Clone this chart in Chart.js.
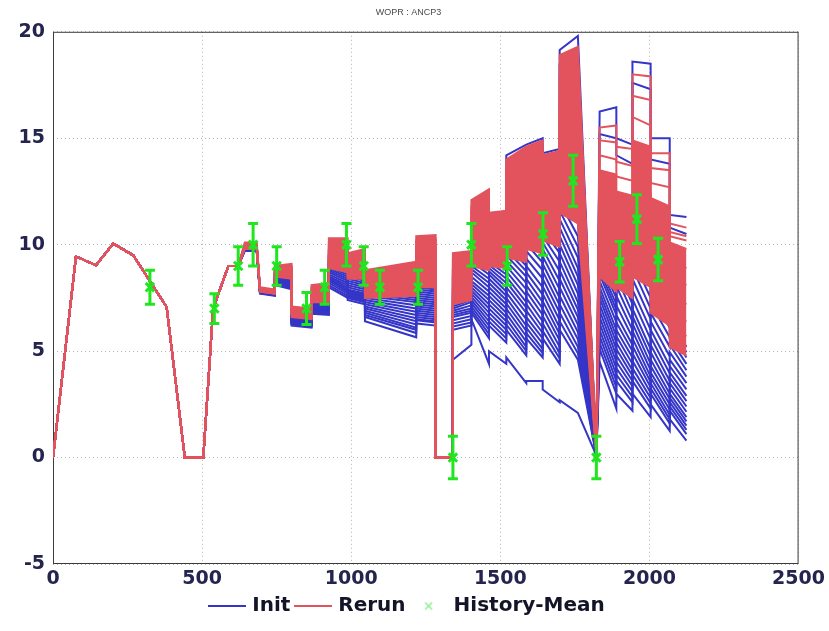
<!DOCTYPE html>
<html>
<head>
<meta charset="utf-8">
<script src="https://cdn.jsdelivr.net/npm/chart.js@4.4.0/dist/chart.umd.min.js"></script>
<style>
html, body { margin: 0; padding: 0; background: #fff; }
</style>
</head>
<body>
<canvas id="wopr-chart" width="829" height="631"></canvas>
<script>
// shared history part (all runs identical up to day 621)
var historyDays = [0, 77, 144, 202, 269, 381, 442, 504, 537, 588, 621];
var historyRate = [0, 9.45, 9.03, 10.05, 9.5, 7.07, 0, 0, 7.0, 9.0, 9.0];

// forecast part, repeated days are the rate steps
var forecastDays = [643, 683, 694, 744,  744, 800, 800, 867, 867, 925,
    925, 988, 988, 1046, 1046, 1218, 1218, 1283,  1283, 1338,
    1341, 1403, 1403, 1462, 1462, 1520, 1520, 1587, 1587, 1642, 1642, 1699, 1699, 1760, 1822,
    1833, 1889, 1889, 1943, 1943, 2004, 2004, 2068, 2068, 2124];

// Init ensemble (blue)
var initRuns = [
    [9.7,9.7,7.7,7.6,  8.1,7.9,6.2,6.1,6.75,6.7,  8.0,7.5,7.4,7.2,6.4,5.65,6.3,6.2,  0,0,
     4.6,5.3,6.5,4.4,5.0,4.4,4.7,3.5,3.6,3.6,3.2,2.6,2.7,2.1,0.1,  4.5,2.3,3.0,2.2,3.0,1.9,2.5,1.25,1.8,0.8],
    [9.72,9.72,7.72,7.62,  8.15,7.95,6.25,6.15,6.8,6.75,  8.1,7.6,7.5,7.3,6.6,5.85,6.45,6.35,  0,0,
     6.0,6.2,6.8,5.6,6.2,5.4,6.0,4.8,5.6,4.7,5.6,4.4,6.0,4.6,0.1,  5.1,3.0,3.6,2.6,3.6,2.3,3.0,1.6,2.2,1.1],
    [9.73,9.73,7.73,7.63,  8.18,7.98,6.28,6.18,6.85,6.78,  8.2,7.7,7.55,7.35,6.7,6.0,6.5,6.4,  0,0,
     6.15,6.35,6.95,5.8,6.4,5.6,6.25,5.0,5.85,4.9,5.95,4.65,6.4,4.9,0.11,  5.4,3.3,3.9,2.85,3.9,2.55,3.25,1.8,2.4,1.3],
    [9.75,9.75,7.75,7.65,  8.2,8.0,6.3,6.2,6.9,6.8,  8.3,7.8,7.6,7.4,6.8,6.1,6.6,6.5,  0,0,
     6.3,6.5,7.1,6.0,6.6,5.8,6.5,5.2,6.1,5.1,6.3,4.9,6.8,5.2,0.12,  5.7,3.6,4.2,3.1,4.2,2.8,3.5,2.0,2.6,1.5],
    [9.76,9.76,7.76,7.66,  8.22,8.02,6.32,6.22,6.92,6.82,  8.35,7.85,7.65,7.45,6.9,6.25,6.7,6.6,  0,0,
     6.45,6.65,7.25,6.2,6.8,6.0,6.75,5.45,6.35,5.35,6.65,5.2,7.2,5.55,0.12,  6.0,3.9,4.5,3.35,4.55,3.05,3.75,2.25,2.8,1.7],
    [9.78,9.78,7.78,7.68,  8.25,8.05,6.35,6.25,6.95,6.85,  8.4,7.9,7.7,7.5,7.0,6.4,6.8,6.7,  0,0,
     6.6,6.8,7.4,6.4,7.0,6.2,7.0,5.7,6.6,5.6,7.0,5.5,7.6,5.9,0.13,  6.3,4.2,4.8,3.6,4.9,3.3,4.0,2.5,3.0,1.9],
    [9.79,9.79,7.79,7.69,  8.28,8.08,6.38,6.28,6.98,6.88,  8.45,8.0,7.75,7.55,7.1,6.55,6.9,6.8,  0,0,
     6.7,6.9,7.55,6.6,7.2,6.4,7.25,5.95,6.9,5.85,7.35,5.8,8.0,6.25,0.14,  6.6,4.5,5.1,3.85,5.25,3.55,4.3,2.75,3.25,2.15],
    [9.8,9.8,7.8,7.7,  8.3,8.1,6.4,6.3,7.0,6.9,  8.5,8.1,7.8,7.6,7.2,6.7,7.0,6.9,  0,0,
     6.8,7.0,7.7,6.8,7.4,6.6,7.5,6.2,7.2,6.1,7.7,6.1,8.4,6.6,0.15,  6.9,4.8,5.4,4.1,5.6,3.8,4.6,3.0,3.5,2.4],
    [9.82,9.82,7.81,7.71,  8.35,8.12,6.42,6.32,7.05,6.95,  8.6,8.2,7.85,7.65,7.3,6.85,7.1,7.0,  0,0,
     6.9,7.15,7.85,7.0,7.6,6.8,7.75,6.5,7.5,6.4,8.05,6.45,8.8,6.95,0.16,  7.2,5.1,5.7,4.4,5.95,4.1,4.95,3.3,3.75,2.65],
    [9.85,9.85,7.82,7.72,  8.4,8.15,6.45,6.35,7.1,7.0,  8.7,8.3,7.9,7.7,7.4,7.0,7.2,7.1,  0,0,
     7.0,7.3,8.0,7.2,7.8,7.0,8.0,6.8,7.8,6.7,8.4,6.8,9.2,7.3,0.17,  7.5,5.4,6.0,4.7,6.3,4.4,5.3,3.6,4.0,2.9],
    [9.86,9.86,7.83,7.73,  8.42,8.18,6.48,6.38,7.15,7.02,  8.78,8.4,8.0,7.8,7.5,7.15,7.3,7.2,  0,0,
     7.1,7.4,8.15,7.4,8.0,7.2,8.25,7.05,8.1,7.0,8.75,7.15,9.6,7.7,0.18,  7.75,5.7,6.35,5.0,6.65,4.75,5.65,3.95,4.3,3.2],
    [9.88,9.88,7.85,7.75,  8.45,8.2,6.5,6.4,7.2,7.05,  8.85,8.5,8.1,7.9,7.6,7.3,7.4,7.3,  0,0,
     7.2,7.5,8.3,7.6,8.2,7.4,8.5,7.3,8.4,7.3,9.1,7.5,10.0,8.1,0.2,  8.0,6.0,6.7,5.3,7.0,5.1,6.0,4.3,4.6,3.5],
    [9.9,9.9,7.86,7.76,  8.5,8.22,6.55,6.42,7.25,7.1,  8.92,8.6,8.2,8.0,7.7,7.4,7.5,7.4,  0,0,
     7.35,7.6,8.5,7.8,8.4,7.6,8.75,7.6,8.7,7.65,9.45,7.9,10.4,8.5,0.21,  8.3,6.35,7.15,5.65,7.45,5.55,6.4,4.75,4.95,3.8],
    [9.92,9.92,7.88,7.78,  8.55,8.25,6.6,6.45,7.3,7.15,  9.0,8.7,8.3,8.1,7.8,7.5,7.6,7.5,  0,0,
     7.5,7.7,8.7,8.0,8.6,7.8,9.0,7.9,9.0,8.0,9.8,8.3,10.8,8.9,0.22,  8.6,6.7,7.6,6.0,7.9,6.0,6.8,5.2,5.3,4.1],
    [9.94,9.94,7.9,7.8,  8.58,8.28,6.65,6.5,7.35,7.18,  9.1,8.75,8.4,8.2,7.9,7.65,7.7,7.6,  0,0,
     7.65,7.85,8.85,8.2,8.75,8.0,9.25,8.2,9.35,8.4,10.1,8.75,11.2,9.4,0.23,  8.8,6.95,8.05,6.4,8.4,6.5,7.25,5.65,5.6,4.4],
    [9.96,9.96,7.92,7.82,  8.6,8.3,6.7,6.55,7.4,7.2,  9.2,8.8,8.5,8.3,8.0,7.8,7.8,7.7,  0,0,
     7.8,8.0,9.0,8.4,8.9,8.2,9.5,8.5,9.7,8.8,10.4,9.2,11.6,9.9,0.25,  9.0,7.2,8.5,6.8,8.9,7.0,7.7,6.1,5.9,4.7],
    [9.98,9.98,7.93,7.83,  8.65,8.35,6.75,6.58,7.45,7.25,  9.3,8.9,8.6,8.4,8.1,7.9,7.9,7.8,  0,0,
     7.9,8.1,9.2,8.6,9.05,8.4,9.75,8.75,10.05,9.15,10.7,9.6,12.0,10.4,0.27,  9.2,7.5,8.95,7.2,9.35,7.5,8.1,6.55,6.2,4.95],
    [10.0,10.0,7.95,7.85,  8.7,8.4,6.8,6.6,7.5,7.3,  9.4,9.0,8.7,8.5,8.2,8.0,8.0,7.9,  0,0,
     8.0,8.2,9.4,8.8,9.2,8.6,10.0,9.0,10.4,9.5,11.0,10.0,12.5,11.0,0.3,  9.4,7.8,9.4,7.6,9.8,8.0,8.5,7.0,6.5,5.2],
    [9.9,9.9,7.85,7.75,  8.7,8.7,6.85,6.7,7.7,7.8,  9.5,9.4,9.0,9.1,8.2,8.5,9.4,9.5,  0,0,
     8.5,8.7,10.6,10.9,10.2,10.3,13.6,14.2,14.3,14.6,13.8,14.0,18.5,19.0,0.3,  15.2,15.0,14.2,13.8,17.6,17.3,14.0,13.8,10.8,10.5],
    [9.95,9.95,7.9,7.8,  8.8,8.8,6.9,6.8,7.8,7.9,  9.7,9.6,9.1,9.3,8.4,8.7,9.7,9.8,  0,0,
     8.8,9.0,11.0,11.3,10.6,10.6,14.2,14.7,14.7,15.0,14.3,14.5,19.15,19.8,0.3,  16.25,16.45,15.0,14.7,18.6,18.5,15.0,15.0,11.4,11.3]
];

// Rerun ensemble (red), bottom to top, the band between them is filled
var rerunRuns = [
    [9.8,9.8,7.8,7.7,  8.5,8.4,6.6,6.5,7.3,7.3,  8.9,8.7,8.4,8.4,7.5,7.6,8.0,8.0,  0,0,
     7.2,7.4,9.0,8.8,9.0,8.9,9.4,9.2,9.8,9.6,10.2,9.9,11.5,11.0,0.1,  8.5,7.8,8.0,7.5,8.5,8.0,6.8,6.2,5.2,4.8],
    [9.8,9.8,7.8,7.7,  8.55,8.45,6.7,6.55,7.4,7.4,  9.0,8.8,8.5,8.5,7.6,7.8,8.3,8.3,  0,0,
     7.5,7.7,9.3,9.1,9.2,9.1,9.8,9.6,10.1,9.9,10.4,10.1,12.0,11.6,0.15,  9.0,8.3,8.4,7.9,9.2,8.7,7.3,6.7,5.6,5.2],
    [9.85,9.85,7.85,7.7,  8.6,8.5,6.75,6.6,7.5,7.5,  9.1,9.0,8.6,8.7,7.8,8.0,8.6,8.6,  0,0,
     7.8,8.0,9.7,9.5,9.5,9.4,10.3,10.3,10.6,10.5,10.8,10.5,12.8,12.6,0.2,  9.5,8.9,8.8,8.3,10.0,9.4,7.9,7.3,6.1,5.7],
    [9.9,9.9,7.85,7.75,  8.7,8.6,6.8,6.7,7.6,7.6,  9.3,9.2,8.8,8.9,8.0,8.3,9.0,9.0,  0,0,
     8.2,8.3,10.1,10.1,9.9,9.8,11.0,11.2,11.4,11.5,11.3,11.2,14.0,14.0,0.2,  10.2,9.6,9.4,8.9,10.9,10.3,8.6,8.0,6.8,6.4],
    [9.9,9.9,7.9,7.8,  8.75,8.7,6.85,6.75,7.7,7.8,  9.5,9.4,9.0,9.1,8.2,8.5,9.4,9.4,  0,0,
     8.5,8.6,10.6,10.7,10.3,10.2,11.7,12.1,12.3,12.5,12.0,12.1,15.4,15.6,0.25,  11.0,10.5,10.1,9.6,11.9,11.3,9.4,8.8,7.6,7.2],
    [9.95,9.95,7.9,7.8,  8.8,8.8,6.9,6.8,7.8,7.9,  9.7,9.6,9.1,9.3,8.4,8.7,9.7,9.8,  0,0,
     8.8,9.0,11.0,11.3,10.6,10.6,12.4,12.9,13.1,13.4,12.8,13.0,16.6,17.0,0.3,  11.9,11.5,10.9,10.5,12.9,12.4,10.4,9.8,8.5,8.1],
    [10.0,10.0,7.95,7.85,  8.9,8.95,7.0,6.9,7.95,8.05,  10.0,10.0,9.4,9.6,8.65,9.0,10.1,10.2,  0,0,
     9.3,9.4,11.6,12.0,11.1,11.2,13.3,13.9,14.0,14.3,13.6,13.8,17.9,18.3,0.3,  12.7,12.4,11.7,11.4,13.9,13.5,11.3,10.8,9.3,8.9],
    [10.1,10.1,8.0,7.9,  9.0,9.1,7.1,7.0,8.1,8.2,  10.3,10.3,9.6,9.8,8.8,9.2,10.4,10.45,  0,0,
     9.6,9.7,12.1,12.6,11.5,11.6,14.0,14.6,14.6,14.9,14.2,14.4,18.9,19.3,0.3,  13.5,13.3,12.5,12.3,14.9,14.6,12.2,11.8,10.1,9.8]
];

// Rerun members standing out above the band (lines only)
var rerunOutliers = [
    [9.9,9.9,7.9,7.8,  8.7,8.7,6.85,6.75,7.75,7.8,  9.5,9.5,9.0,9.2,8.3,8.5,9.5,9.5,  0,0,
     8.6,8.7,10.5,10.8,10.2,10.3,11.9,12.3,12.4,12.7,12.2,12.3,15.8,16.0,0.25,  14.2,14.0,13.2,13.0,16.0,15.6,12.9,12.7,10.4,10.2],
    [9.95,9.95,7.9,7.8,  8.8,8.85,6.9,6.8,7.85,7.95,  9.8,9.7,9.2,9.4,8.5,8.8,9.8,9.9,  0,0,
     9.0,9.1,11.2,11.5,10.8,10.9,12.8,13.3,13.5,13.8,13.1,13.3,17.2,17.6,0.3,  14.9,14.8,13.9,13.7,17.0,16.8,13.6,13.5,10.6,10.4],
    [10.0,10.0,7.95,7.85,  8.95,9.0,7.0,6.95,8.0,8.1,  10.1,10.1,9.5,9.7,8.7,9.1,10.2,10.3,  0,0,
     9.4,9.5,11.8,12.3,11.3,11.4,13.7,14.3,14.3,14.6,13.9,14.1,18.4,18.8,0.3,  15.5,15.6,14.6,14.5,18.0,17.9,14.3,14.3,11.0,10.8]
];

// observed history with error
var obsDays = [325, 541, 621, 671, 750, 850, 911, 984, 1042, 1096, 1224, 1341, 1403, 1523, 1643, 1744, 1822, 1900, 1958, 2029];
var obsMean = [8.0, 7.0, 9.0, 10.0, 9.0, 7.0, 8.0, 10.0, 9.0, 8.0, 8.0, 0.0, 10.0, 9.0, 10.5, 13.0, 0.0, 9.2, 11.2, 9.3];
var obsError = [0.8, 0.7, 0.9, 1.0, 0.9, 0.75, 0.8, 1.0, 0.9, 0.8, 0.8, 1.0, 1.0, 0.9, 1.0, 1.2, 1.0, 0.95, 1.15, 1.0];

var xTickValues = [0, 500, 1000, 1500, 2000, 2500];
var yTickValues = [-5, 0, 5, 10, 15, 20];

var blueColor = '#3535c8';
var redColor = '#e3535d';
var greenColor = '#1fe61f';
var tickFont = {family: 'DejaVu Sans', size: 19, weight: 'bold'};
var tickColor = '#24244e';

function runPoints(values) {
    var pts = historyDays.map(function (d, i) { return {x: d, y: historyRate[i]}; });
    forecastDays.forEach(function (d, i) { pts.push({x: d, y: values[i]}); });
    return pts;
}

function lineIcon(color) {
    var c = document.createElement('canvas');
    c.width = 38; c.height = 2;
    var g = c.getContext('2d');
    g.fillStyle = color;
    g.fillRect(0, 0, 38, 2);
    return c;
}

function crossIcon(color) {
    var c = document.createElement('canvas');
    c.width = 9; c.height = 9;
    var g = c.getContext('2d');
    g.strokeStyle = color;
    g.lineWidth = 1.5;
    g.beginPath();
    g.moveTo(1, 1); g.lineTo(8, 8);
    g.moveTo(8, 1); g.lineTo(1, 8);
    g.stroke();
    return c;
}

var datasets = [];

datasets.push({
    label: 'History-Mean',
    data: obsDays.map(function (d, i) { return {x: d, y: obsMean[i]}; }),
    showLine: false,
    pointStyle: 'crossRot',
    pointRadius: 6,
    pointBorderWidth: 3,
    borderColor: greenColor,
    backgroundColor: greenColor,
    order: 0
});

rerunRuns.forEach(function (vals, k) {
    datasets.push({
        label: 'Rerun',
        data: runPoints(vals),
        borderColor: redColor,
        backgroundColor: redColor,
        borderWidth: 2,
        pointRadius: 0,
        fill: k === 0 ? false : '-1',
        order: 1
    });
});

rerunOutliers.forEach(function (vals) {
    datasets.push({
        label: 'Rerun',
        data: runPoints(vals),
        borderColor: redColor,
        borderWidth: 2,
        pointRadius: 0,
        fill: false,
        order: 1
    });
});

initRuns.forEach(function (vals) {
    datasets.push({
        label: 'Init',
        data: runPoints(vals),
        borderColor: blueColor,
        borderWidth: 2,
        pointRadius: 0,
        fill: false,
        order: 2
    });
});

// error bars of the observations, drawn with the chart scales
var errorBars = {
    id: 'errorBars',
    afterDatasetsDraw: function (chart) {
        var ctx = chart.ctx, x = chart.scales.x, y = chart.scales.y;
        ctx.save();
        ctx.strokeStyle = greenColor;
        ctx.lineWidth = 3;
        obsDays.forEach(function (d, i) {
            var px = x.getPixelForValue(d);
            var top = y.getPixelForValue(obsMean[i] + obsError[i]);
            var bot = y.getPixelForValue(obsMean[i] - obsError[i]);
            ctx.beginPath();
            ctx.moveTo(px, top); ctx.lineTo(px, bot);
            ctx.moveTo(px - 5, top); ctx.lineTo(px + 5, top);
            ctx.moveTo(px - 5, bot); ctx.lineTo(px + 5, bot);
            ctx.stroke();
        });
        ctx.restore();
    }
};

var frame = {
    id: 'frame',
    beforeDatasetsDraw: function (chart) {
        var a = chart.chartArea, ctx = chart.ctx;
        ctx.save();
        ctx.strokeStyle = '#3c3c3c';
        ctx.lineWidth = 1;
        ctx.strokeRect(a.left + 0.5, a.top + 0.5, a.right - a.left - 1, a.bottom - a.top - 1);
        ctx.restore();
    }
};

new Chart(document.getElementById('wopr-chart').getContext('2d'), {
    type: 'line',
    data: {datasets: datasets},
    options: {
        responsive: false,
        animation: false,
        events: [],
        layout: {padding: {left: 18, right: 30, top: 0, bottom: 5}},
        scales: {
            x: {
                type: 'linear',
                min: 0,
                max: 2500,
                afterBuildTicks: function (s) { s.ticks = xTickValues.map(function (v) { return {value: v}; }); },
                afterFit: function (s) { s.height = 24; },
                ticks: {font: tickFont, color: tickColor, padding: 4, maxRotation: 0, autoSkip: false,
                    callback: function (v) { return String(v); }},
                grid: {color: '#b4b4b4', drawTicks: false},
                border: {display: false, dash: [1, 3]}
            },
            y: {
                type: 'linear',
                min: -5,
                max: 20,
                afterBuildTicks: function (s) { s.ticks = yTickValues.map(function (v) { return {value: v}; }); },
                afterFit: function (s) { s.width = 35; },
                ticks: {font: tickFont, color: tickColor, padding: 8,
                    callback: function (v) { return String(v); }},
                grid: {color: '#b4b4b4', drawTicks: false},
                border: {display: false, dash: [1, 3]}
            }
        },
        plugins: {
            title: {
                display: true,
                text: 'WOPR : ANCP3',
                color: '#4a4a4a',
                font: {family: 'Liberation Sans', size: 9, weight: 'normal'},
                padding: {top: 7, bottom: 14}
            },
            legend: {
                position: 'bottom',
                labels: {
                    usePointStyle: true,
                    pointStyleWidth: 30,
                    padding: 8,
                    color: '#141428',
                    font: {family: 'DejaVu Sans', size: 20, weight: 'bold'},
                    generateLabels: function () {
                        return [
                            {text: 'Init', pointStyle: lineIcon(blueColor), fillStyle: blueColor, strokeStyle: blueColor, lineWidth: 0, hidden: false, fontColor: '#141428'},
                            {text: 'Rerun', pointStyle: lineIcon(redColor), fillStyle: redColor, strokeStyle: redColor, lineWidth: 0, hidden: false, fontColor: '#141428'},
                            {text: 'History-Mean', pointStyle: crossIcon('#8ef08e'), fillStyle: greenColor, strokeStyle: greenColor, lineWidth: 0, hidden: false, fontColor: '#141428'}
                        ];
                    }
                }
            },
            tooltip: {enabled: false}
        }
    },
    plugins: [errorBars, frame]
});
</script>
</body>
</html>
